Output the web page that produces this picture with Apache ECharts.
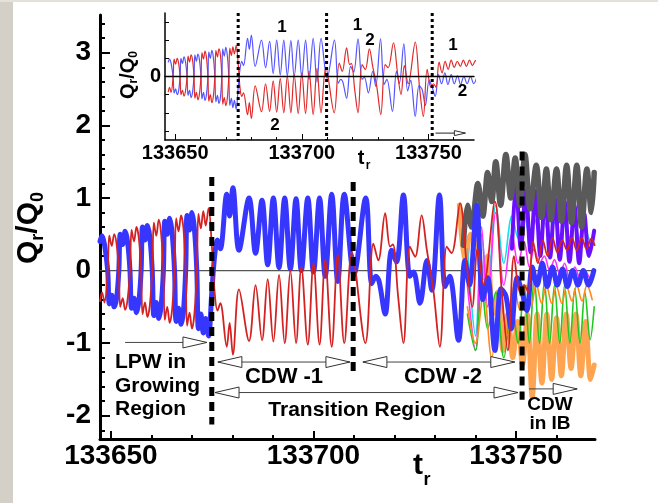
<!DOCTYPE html>
<html><head><meta charset="utf-8">
<script src="https://cdn.jsdelivr.net/npm/echarts@6/dist/echarts.min.js"></script>
<style>html,body{margin:0;padding:0;background:#fff}#c{width:658px;height:503px}</style>
</head><body><div id="c"></div><script>
// ---------- tick labels ----------
const xTickLabels = [133650, 133700, 133750];
const xMinorTicks = [133660, 133670, 133680, 133690, 133710, 133720, 133730, 133740, 133760];
const yTickLabels = [-2, -1, 0, 1, 2, 3];
const yMinorTicks = [-2.2,-1.8,-1.6,-1.4,-1.2,-0.8,-0.6,-0.4,-0.2,0.2,0.4,0.6,0.8,1.2,1.4,1.6,1.8,2.2,2.4,2.6,2.8,3.2,3.4];
const insetYTicks = [-1.5, -1, -0.5, 0.5, 1, 1.5];
const insetYLabels = [0];
// region boundaries (t_r)
const regionBounds = [133674.9, 133709.8, 133751.5];

// ---------- series values [t_r, Q_r/Q_0] ----------
const wave1 = [ // blue, "1"
[133647.3,0.40],[133647.8,0.48],[133648.4,0.36],[133649.2,0.0],[133649.6,-0.46],[133650.2,-0.34],[133650.8,-0.50],[133651.4,-0.38],
[133651.95,0.0],[133652.3,0.50],[133652.9,0.36],[133653.5,0.54],[133654.1,0.40],[133654.7,0.0],[133655.1,-0.52],[133655.7,-0.38],
[133656.3,-0.58],[133656.9,-0.42],[133657.45,0.0],[133657.8,0.60],[133658.4,0.42],[133659.0,0.62],[133659.6,0.46],[133660.2,0.0],
[133660.6,-0.62],[133661.2,-0.44],[133661.8,-0.66],[133662.4,-0.48],[133662.95,0.0],[133663.3,0.68],[133663.9,0.50],[133664.5,0.72],
[133665.1,0.52],[133665.7,0.0],[133666.1,-0.70],[133666.7,-0.52],[133667.3,-0.74],[133667.9,-0.56],[133668.45,0.0],[133668.8,0.76],
[133669.4,0.56],[133670.0,0.80],[133670.6,0.58],[133671.2,0.0],[133671.6,-0.80],[133672.2,-0.60],[133672.8,-0.86],[133673.4,-0.66],
[133674.1,-0.90],[133674.9,-0.30],[133675.6,0.20],[133676.3,0.42],[133677.0,0.30],[133678.6,1.05],[133679.3,0.75],[133680.1,1.14],
[133681.6,0.28],[133684.1,1.00],[133685.7,0.24],[133687.3,0.97],[133688.7,0.08],[133690.1,1.00],[133691.5,0.04],[133692.9,1.00],
[133694.3,0.02],[133695.7,0.99],[133697.0,0.0],[133698.6,1.00],[133700.0,-0.02],[133701.5,1.00],[133702.9,-0.08],[133704.5,1.05],
[133706.0,-0.15],[133707.6,1.05],[133710.0,-0.05],[133712.9,1.00],[133714.4,-0.18],[133715.4,-0.08],[133716.2,-0.15],[133717.7,-0.60],
[133719.3,0.28],[133720.5,0.12],[133722.2,1.04],[133723.8,-0.08],[133724.7,-0.02],[133726.3,-0.45],[133728.0,0.14],[133729.2,-0.27],
[133731.1,1.04],[133732.5,-0.22],[133733.6,-0.08],[133735.8,-0.96],[133737.4,0.14],[133738.5,-0.20],[133740.3,0.90],[133741.8,-0.40],
[133743.0,-0.10],[133744.8,-1.10],[133746.3,-0.25],[133747.5,-0.35],[133748.8,-0.80],[133750.3,-0.10],[133751.5,-0.30],[133752.7,-0.55],
[133754.0,0.05],[133755.2,-0.20],[133756.5,0.10],[133757.7,-0.22],[133759.0,0.05],[133760.2,-0.20],[133761.5,0.02],[133762.7,-0.22],
[133764.0,0.0],[133765.3,-0.20],[133766.6,0.0],[133767.9,-0.20],[133769.2,0.0]
];
const wave2 = [ // red, "2"
[133647.3,-0.42],[133647.8,-0.30],[133648.4,-0.44],[133649.2,0.0],[133649.6,0.48],[133650.2,0.34],[133650.8,0.50],[133651.4,0.36],
[133651.95,0.0],[133652.3,-0.50],[133652.9,-0.38],[133653.5,-0.54],[133654.1,-0.40],[133654.7,0.0],[133655.1,0.56],[133655.7,0.40],
[133656.3,0.60],[133656.9,0.44],[133657.45,0.0],[133657.8,-0.60],[133658.4,-0.44],[133659.0,-0.64],[133659.6,-0.48],[133660.2,0.0],
[133660.6,0.66],[133661.2,0.48],[133661.8,0.70],[133662.4,0.50],[133662.95,0.0],[133663.3,-0.68],[133663.9,-0.50],[133664.5,-0.72],
[133665.1,-0.54],[133665.7,0.0],[133666.1,0.72],[133666.7,0.54],[133667.3,0.76],[133667.9,0.58],[133668.45,0.0],[133668.8,-0.76],
[133669.4,-0.58],[133670.0,-0.80],[133670.6,-0.60],[133671.2,0.0],[133671.6,0.78],[133672.2,0.58],[133672.8,0.82],[133673.4,0.62],
[133674.1,0.86],[133674.9,0.35],[133675.6,-0.30],[133676.3,-0.55],[133677.0,-0.45],[133678.6,-1.05],[133679.3,-0.72],[133680.1,-1.16],
[133681.6,-0.26],[133684.1,-0.97],[133685.7,-0.20],[133687.3,-0.96],[133688.7,-0.12],[133690.1,-0.98],[133691.5,-0.06],[133692.9,-1.00],
[133694.3,0.0],[133695.7,-1.00],[133697.0,0.05],[133698.6,-1.02],[133700.0,0.10],[133701.5,-1.02],[133702.9,0.15],[133704.5,-1.05],
[133706.0,0.22],[133707.6,-1.00],[133709.5,0.25],[133712.8,-1.00],[133714.8,0.37],[133716.0,0.14],[133717.7,0.79],[133718.9,0.33],
[133719.6,0.36],[133720.9,-0.36],[133722.2,-1.00],[133723.8,0.33],[133725.1,0.19],[133726.7,0.76],[133728.0,0.28],[133729.6,-0.27],
[133731.2,-1.05],[133732.9,0.33],[133734.1,0.24],[133736.2,0.93],[133737.8,0.10],[133739.2,-0.50],[133740.5,0.30],[133742.0,-0.20],
[133744.8,0.95],[133746.5,-0.30],[133748.0,-1.10],[133749.5,0.20],[133751.0,-0.30],[133752.0,-0.20],[133753.0,-0.30],[133754.2,0.40],
[133755.4,0.10],[133756.6,0.42],[133757.8,0.20],[133759.0,0.45],[133760.2,0.25],[133761.4,0.42],[133762.6,0.28],[133763.8,0.45],
[133765.0,0.28],[133766.2,0.45],[133767.4,0.30],[133768.6,0.44],[133769.4,0.35]
];
const waveGrey = [
[133737.0,0.35],[133738.0,0.90],[133739.0,0.60],[133740.6,1.20],[133741.8,0.75],[133743.0,1.35],[133744.0,0.95],[133745.0,1.50],
[133746.2,0.90],[133747.5,1.60],[133748.7,1.00],[133749.8,1.55],[133751.0,0.90],[133752.2,1.60],[133753.5,0.85],[133755.0,1.45],
[133756.3,0.73],[133757.5,1.40],[133758.6,0.70],[133760.0,1.40],[133761.2,0.68],[133762.5,1.45],[133763.7,0.66],[133765.0,1.45],
[133766.2,0.60],[133767.5,1.40],[133768.6,0.80],[133769.3,1.35]
];
const wavePurple = [
[133749.0,0.30],[133750.0,1.20],[133751.2,0.30],[133752.4,1.10],[133753.6,0.25],[133754.8,1.10],[133756.0,0.20],[133757.2,1.05],
[133758.4,0.18],[133759.6,1.00],[133760.8,0.15],[133762.0,0.95],[133763.2,0.12],[133764.4,0.90],[133765.6,0.10],[133766.8,0.80],
[133768.0,0.20],[133769.3,0.55]
];
const waveOrange = [
[133736.0,0.90],[133737.5,0.10],[133738.8,0.50],[133740.5,0.30],[133741.8,-0.10],[133743.0,0.20],[133744.3,-0.60],[133745.5,-0.30],
[133746.8,-1.10],[133748.0,-0.60],[133749.2,-1.20],[133750.4,-0.70],[133751.6,-1.30],[133752.8,-0.60],[133754.0,-1.75],[133755.2,-0.60],
[133756.4,-1.55],[133757.6,-0.60],[133758.8,-1.50],[133760.0,-0.65],[133761.2,-1.45],[133762.4,-0.60],[133763.6,-1.35],[133764.8,-0.60],
[133766.0,-1.45],[133767.2,-0.70],[133768.4,-1.50],[133769.3,-1.30]
];
const waveGreen = [
[133738.0,-0.60],[133740.0,-1.10],[133741.5,-0.20],[133743.0,-0.80],[133745.0,-0.30],[133747.0,-1.20],[133749.0,-0.50],[133750.5,-1.00],
[133752.0,-0.20],[133753.3,-1.00],[133754.5,-0.10],[133755.8,-1.00],[133757.0,-0.15],[133758.3,-1.00],[133759.5,-0.20],[133760.8,-1.00],
[133762.0,-0.20],[133763.3,-1.00],[133764.5,-0.25],[133765.8,-1.00],[133767.0,-0.30],[133768.3,-0.95],[133769.3,-0.50]
];
const waveCyan = [
[133738.0,0.30],[133740.0,-0.90],[133741.5,0.50],[133743.0,-0.30],[133745.0,0.90],[133747.0,0.10],[133749.0,0.75],[133750.5,0.45],
[133752.0,0.78],[133753.3,0.50],[133754.5,0.72],[133755.8,0.48],[133757.0,0.66],[133758.3,0.46],[133759.5,0.66],[133760.8,0.48],
[133762.0,0.62],[133763.3,0.45],[133764.5,0.62],[133765.8,0.44],[133767.0,0.58],[133768.3,0.42],[133769.3,0.50]
];
const waveMagenta = [
[133738.0,-0.20],[133740.0,-1.10],[133741.5,0.60],[133743.0,-0.50],[133745.0,0.80],[133747.0,-0.20],[133749.0,0.50],[133750.5,0.10],
[133752.0,0.40],[133753.3,0.05],[133754.5,0.30],[133755.8,0.10],[133757.0,0.20],[133758.3,0.0],[133759.5,0.15],[133760.8,-0.05],
[133762.0,0.10],[133763.3,-0.15],[133764.5,0.05],[133765.8,-0.10],[133767.0,0.0],[133768.3,-0.10],[133769.3,0.0]
];
const waveOrangeThin = [
[133738.0,-0.50],[133740.0,-1.00],[133742.0,-0.30],[133744.0,-1.20],[133746.0,-0.40],[133748.0,-0.90],[133749.5,-0.20],[133751.0,-0.55],
[133752.5,-0.20],[133753.8,-0.48],[133755.0,-0.18],[133756.3,-0.45],[133757.5,-0.20],[133758.8,-0.45],[133760.0,-0.22],[133761.3,-0.45],
[133762.5,-0.22],[133763.8,-0.42],[133765.0,-0.20],[133766.3,-0.42],[133767.5,-0.20],[133768.8,-0.40]
];

// ---------- layout / style ----------
const FONT = 'Liberation Sans';
const MAIN_X = [133647.3, 133769.5], MAIN_Y = [-2.32, 3.52];
const INS_X = [133646.0, 133768.0], INS_Y = [-1.75, 1.75];
const mainDash = [[1.29,-2.12],[1.22,-1.39],[1.64,-1.78]];
const insetDash = [1.75, -1.75];

const chart = echarts.init(document.getElementById('c'));
const fmt = function(v){ return String(v); };

function xAx(grid, ext, major, labels, fs, lw, tlen, showLine){
  return {type:'value', gridIndex:grid, position:'bottom', min:ext[0], max:ext[1], splitLine:{show:false},
    axisLine:{show:showLine, onZero:false, lineStyle:{color:'#000', width:lw}},
    axisTick:{show:true, inside:true, length:tlen, customValues:major, lineStyle:{color:'#000', width:Math.max(1,lw-1)}},
    axisLabel:{show:!!labels, customValues:labels||[], formatter:fmt, color:'#000', fontFamily:FONT, fontWeight:'bold', fontSize:fs, margin:3}};
}
function yAx(grid, ext, major, labels, fs, lw, tlen, showLine, margin){
  return {type:'value', gridIndex:grid, position:'left', min:ext[0], max:ext[1], splitLine:{show:false},
    axisLine:{show:showLine, onZero:false, lineStyle:{color:'#000', width:lw}},
    axisTick:{show:true, inside:true, length:tlen, customValues:major, lineStyle:{color:'#000', width:Math.max(1,lw-1)}},
    axisLabel:{show:!!labels, customValues:labels||[], formatter:fmt, color:'#000', fontFamily:FONT, fontWeight:'bold', fontSize:fs, margin:margin}};
}
function ln(data, color, width, xi, yi, z, extra){
  return Object.assign({type:'line', data:data, xAxisIndex:xi, yAxisIndex:yi, symbol:'none', showSymbol:false,
    smooth:0.35, silent:true, animation:false, z:z,
    lineStyle:{color:color, width:width, cap:'round', join:'round'}}, extra||{});
}

const series = [];
series.push(ln([[MAIN_X[0],0],[MAIN_X[1],0]], '#555', 1.2, 0, 0, 1, {smooth:false}));
series.push(ln(waveOrange, '#ffa552', 5, 0, 0, 2));
series.push(ln(waveCyan, '#10e0e8', 1.6, 0, 0, 3));
series.push(ln(waveMagenta, '#ff30ff', 1.6, 0, 0, 3));
series.push(ln(waveGreen, '#1ec81e', 1.6, 0, 0, 3));
series.push(ln(waveOrangeThin, '#ff8a1a', 1.6, 0, 0, 3));
series.push(ln(wavePurple, '#6a10ff', 4, 0, 0, 4));
series.push(ln(waveGrey, '#5a5a5a', 5.5, 0, 0, 5));
series.push(ln(wave1, '#3636ff', 5, 0, 0, 6));
series.push(ln(wave2, '#d42222', 1.8, 0, 0, 7));
regionBounds.forEach(function(t,i){
  series.push(ln([[t,mainDash[i][0]],[t,mainDash[i][1]]], '#000', 5, 0, 0, 9, {smooth:false, lineStyle:{color:'#000', width:5, type:[9,6], cap:'butt'}}));
});
series.push(ln(wave1, '#5555ff', 1.2, 2, 2, 11));
series.push(ln(wave2, '#e02a2a', 1.2, 2, 2, 12));
series.push(ln([[INS_X[0],0],[INS_X[1],0]], '#000', 1.4, 2, 2, 13, {smooth:false}));
regionBounds.forEach(function(t){
  series.push(ln([[t,insetDash[0]],[t,insetDash[1]]], '#000', 3, 2, 2, 14, {smooth:false, lineStyle:{color:'#000', width:3, type:[3,3], cap:'butt'}}));
});

chart.setOption({
  animation:false,
  backgroundColor:'#fff',
  grid:[{left:100, top:15, right:63, bottom:64, containLabel:false},
        {left:165, top:13, right:184, bottom:363, containLabel:false}],
  xAxis:[
    xAx(0, MAIN_X, xTickLabels, xTickLabels, 28, 3, 8, true),
    xAx(0, MAIN_X, xMinorTicks, null, 28, 3, 4, false),
    xAx(1, INS_X, xTickLabels, xTickLabels, 20, 1.5, 6, true),
    xAx(1, INS_X, [133660,133670,133680,133690,133710,133720,133730,133740,133760], null, 20, 1.5, 3, false)
  ],
  yAxis:[
    yAx(0, MAIN_Y, yTickLabels, yTickLabels, 28, 3, 10, true, 9),
    yAx(0, MAIN_Y, yMinorTicks, null, 28, 3, 5, false, 9),
    yAx(1, INS_Y, insetYTicks, insetYLabels, 20, 1.5, 4, true, 4)
  ],
  series:series
});

// ---------- annotations ----------
function P(t,v){ return chart.convertToPixel({gridIndex:0}, [t,v]); }
function PI(t,v){ return chart.convertToPixel({gridIndex:1}, [t,v]); }
const arrows = [ // [t0, t1, v, headAtStart, headAtEnd]
  [133653.5, 133673.7, -0.99, false, true],
  [133676.4, 133709.0, -1.26, true, true],
  [133675.7, 133750.5, -1.68, true, true],
  [133712.2, 133749.7, -1.26, true, true],
  [133753.2, 133765.1, -1.63, false, true]
];
const g = [];
g.push({type:'rect', shape:{x:0,y:0,width:13,height:503}, style:{fill:'#d4d0c8'}, z:100});
g.push({type:'rect', shape:{x:0,y:0,width:658,height:2}, style:{fill:'#e4e1da'}, z:100});
function head(x,y,dir,L,H){
  return {type:'polygon', shape:{points:[[x,y],[x-dir*L,y-H],[x-dir*L,y+H]]}, style:{fill:'#fff', stroke:'#333', lineWidth:1}, z:101};
}
arrows.forEach(function(a){
  const p0 = P(a[0],a[2]), p1 = P(a[1],a[2]);
  g.push({type:'line', shape:{x1:p0[0],y1:p0[1],x2:p1[0],y2:p1[1]}, style:{stroke:'#444', lineWidth:1}, z:100});
  if(a[3]) g.push(head(p0[0],p0[1],-1,24,5.5));
  if(a[4]) g.push(head(p1[0],p1[1],1,24,5.5));
});
(function(){
  const p0 = PI(133752.8,-1.56), p1 = PI(133764.6,-1.56);
  g.push({type:'line', shape:{x1:p0[0],y1:p0[1],x2:p1[0],y2:p1[1]}, style:{stroke:'#222', lineWidth:1}, z:100});
  g.push(head(p1[0],p1[1],1,11,2.5));
})();
function txt(s,x,y,fs,align,extra){
  return Object.assign({type:'text', x:x, y:y, z:102, style:{text:s, fill:'#000', font:'bold '+fs+'px "'+FONT+'"', textAlign:align||'center', textVerticalAlign:'middle'}}, extra||{});
}
g.push(txt('LPW in',115,362,21,'left'));
g.push(txt('Growing',115,386,21,'left'));
g.push(txt('Region',115,409,21,'left'));
g.push(txt('CDW -1',284,377,22));
g.push(txt('CDW -2',443,377,22));
g.push(txt('Transition Region',357,410,21));
g.push(txt('CDW',550,405,19));
g.push(txt('in IB',550,424,19));
g.push(txt('t',418,466,30));
g.push(txt('r',427,480,18));
g.push(txt('t',361,158,20));
g.push(txt('r',368,166,12));
function qname(cx,cy,big,small,off){
  const wQ = big*0.778, wS1 = small*0.389, wSl = big*0.278, wS0 = small*0.556;
  const L = wQ+wS1+wSl+wQ+wS0;
  let x = -L/2;
  const ch = [];
  const add = function(s,fs,dy,w){ ch.push({type:'text', x:x, y:dy, style:{text:s, fill:'#000', font:'bold '+fs+'px "'+FONT+'"', textAlign:'left', textVerticalAlign:'middle'}}); x+=w; };
  add('Q',big,0,wQ); add('r',small,off,wS1); add('/',big,0,wSl); add('Q',big,0,wQ); add('0',small,off,wS0);
  return {type:'group', x:cx, y:cy, rotation:Math.PI/2, children:ch, z:102};
}
g.push(qname(29,228,30,18,9));
g.push(qname(128,75,20,12,6));
[['1',282,27.5],['2',275,125],['1',357.5,25.5],['2',370,40],['1',453,45],['2',462.5,91.5]].forEach(function(a){
  g.push(txt(a[0],a[1],a[2],17));
});
chart.setOption({graphic:{elements:g}});
</script></body></html>
